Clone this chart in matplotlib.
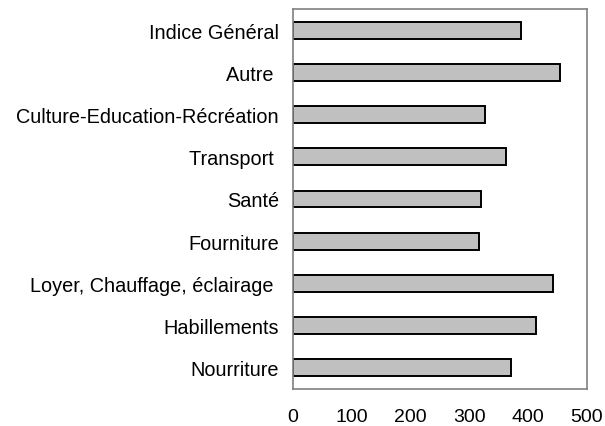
import matplotlib
matplotlib.use('Agg')
import matplotlib.pyplot as plt

plt.rcParams['font.family'] = ['Liberation Sans', 'DejaVu Sans']

categories = ['Nourriture', 'Habillements', 'Loyer, Chauffage, éclairage ', 'Fourniture',
              'Santé', 'Transport ', 'Culture-Education-Récréation', 'Autre ', 'Indice Général']
values = [371, 413, 442, 317, 320, 362, 327, 454, 387]
xticks = [0, 100, 200, 300, 400, 500]

fig = plt.figure(figsize=(6.05, 4.27), dpi=100)
ax = fig.add_axes([0.4843, 0.0867, 0.4859, 0.8899])

ax.barh(range(len(categories)), values, height=0.4, color='#c0c0c0',
        edgecolor='black', linewidth=1.4)
ax.set_xlim(0, 500)
ax.set_ylim(-0.5, len(categories) - 0.5)
ax.set_yticks(range(len(categories)))
ax.set_yticklabels(categories, fontsize=14.3)
ax.set_xticks(xticks)
ax.set_xticklabels([str(t) for t in xticks], fontsize=14)
ax.tick_params(axis='y', length=0, pad=10)
ax.tick_params(axis='x', length=0, pad=14)
for s in ax.spines.values():
    s.set_color('#808080')
    s.set_linewidth(1.2)

fig.savefig('out.png', dpi=100)
